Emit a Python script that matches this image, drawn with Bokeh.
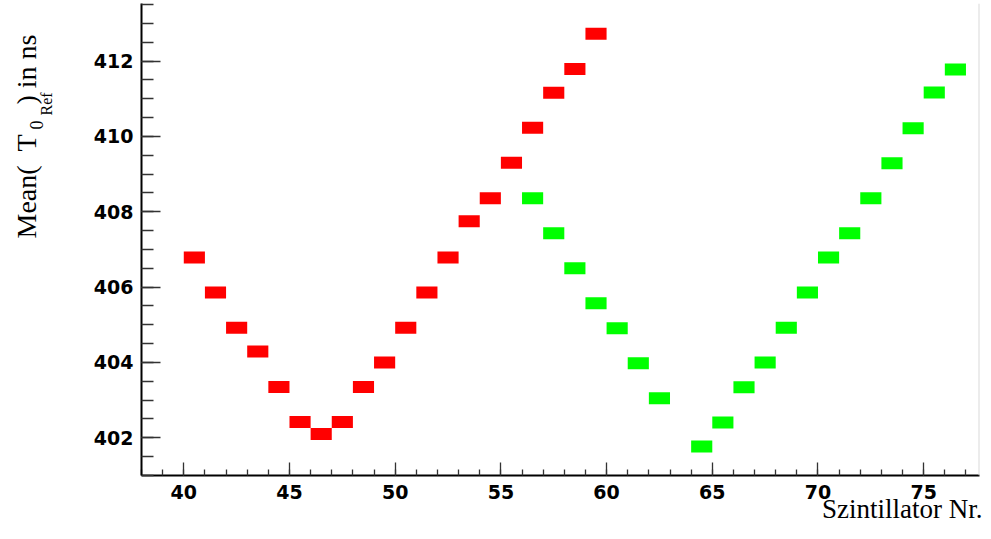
import numpy as np
from bokeh.plotting import figure
from bokeh.layouts import row
from bokeh.models import Range1d, SingleIntervalTicker, Span, ColumnDataSource, Title
from bokeh.core.properties import value
from bokeh.embed import file_html
from bokeh.resources import INLINE

# ---- data ----
red_nr = [40, 41, 42, 43, 44, 45, 46, 47, 48, 49,
          50, 51, 52, 53, 54, 55, 56, 57, 58, 59]
red_mean = [406.79, 405.86, 404.92, 404.29, 403.35, 402.42, 402.10, 402.42, 403.35, 404.00,
            404.92, 405.86, 406.79, 407.75, 408.36, 409.30, 410.23, 411.16, 411.79, 412.73]

green_nr = [56, 57, 58, 59, 60, 61, 62, 64, 65, 66,
            67, 68, 69, 70, 71, 72, 73, 74, 75, 76]
green_mean = [408.36, 407.43, 406.50, 405.57, 404.91, 403.98, 403.05, 401.77, 402.41, 403.34,
              404.00, 404.92, 405.86, 406.79, 407.43, 408.36, 409.29, 410.22, 411.17, 411.78]

x_ticks_interval = 5
y_ticks_interval = 2
x_title = "Szintillator Nr."
y_title_parts = ["Mean(", "T", "0", "Ref", ") in ns"]

# ---- geometry ----
H = 531
L = 70                       # width of the y-title strip
W = 983 - L                  # main plot width
ML, MR, MT, MB = 141 - L, 4, 3, 56
X0, X1 = 38.0, 77.64
Y0, Y1 = 401.0, 413.53

serif = "Liberation Serif"

# ---- y title strip (coordinates = page pixels) ----
lab = figure(width=L, height=H, output_backend="svg", toolbar_location=None,
             x_range=Range1d(0, L), y_range=Range1d(MB, H - MT),
             x_axis_location=None, y_axis_location=None,
             min_border_left=0, min_border_right=0, min_border_top=MT, min_border_bottom=MB)
lab.outline_line_color = None
lab.grid.visible = False
ang = np.pi / 2
# (start along page-y, baseline page-x, font size)
layout_pos = [(238, 26, "28px"), (151, 26, "28px"), (129, 36, "18px"),
              (115, 46, "16px"), (104, 26, "28px")]
for txt, (ys, xb, fs) in zip(y_title_parts, layout_pos):
    lab.text(x=[xb], y=[H - ys], text=[txt], angle=ang, text_align="left",
             text_baseline="alphabetic", text_font=value(serif),
             text_font_size=value(fs), text_color="black")

# ---- main plot ----
p = figure(width=W, height=H, output_backend="svg", toolbar_location=None,
           x_range=Range1d(X0, X1), y_range=Range1d(Y0, Y1),
           min_border_left=ML, min_border_right=MR, min_border_top=MT, min_border_bottom=MB)
p.outline_line_color = None
p.grid.visible = False

rs = ColumnDataSource(dict(x=np.array(red_nr) + 0.5, y=red_mean))
gs = ColumnDataSource(dict(x=np.array(green_nr) + 0.5, y=green_mean))
p.rect(x="x", y="y", width=1, height=12, height_units="screen", source=rs,
       fill_color="#ff0000", line_color=None)
p.rect(x="x", y="y", width=1, height=12, height_units="screen", source=gs,
       fill_color="#00ff00", line_color=None)

p.add_layout(Span(location=X1, dimension="height", line_color="#d9d9d9", line_width=2))

for ax, maj, mino in ((p.xaxis[0], 13, 6), (p.yaxis[0], 19, 12)):
    ax.axis_line_width = 2
    ax.axis_line_color = "black"
    ax.major_tick_in = maj
    ax.major_tick_out = 0
    ax.minor_tick_in = mino
    ax.minor_tick_out = 0
    ax.major_tick_line_color = "#333333"
    ax.minor_tick_line_color = "#333333"
    ax.major_tick_line_width = 1.3
    ax.minor_tick_line_width = 1.3
    ax.major_label_text_font = "DejaVu Sans"
    ax.major_label_text_font_style = "bold"
    ax.major_label_text_font_size = "19px"
    ax.major_label_text_color = "black"

p.xaxis[0].ticker = SingleIntervalTicker(interval=x_ticks_interval, num_minor_ticks=5)
p.yaxis[0].ticker = SingleIntervalTicker(interval=y_ticks_interval, num_minor_ticks=4)
p.xaxis[0].major_label_standoff = 9
p.yaxis[0].major_label_standoff = 8

p.add_layout(Title(text=x_title, align="right", offset=-3, standoff=-15,
                   vertical_align="top", text_font=serif, text_font_style="normal",
                   text_font_size="27px", text_color="black"), "below")

layout = row(lab, p, spacing=0)
open("out.html", "w").write(file_html(layout, INLINE))
